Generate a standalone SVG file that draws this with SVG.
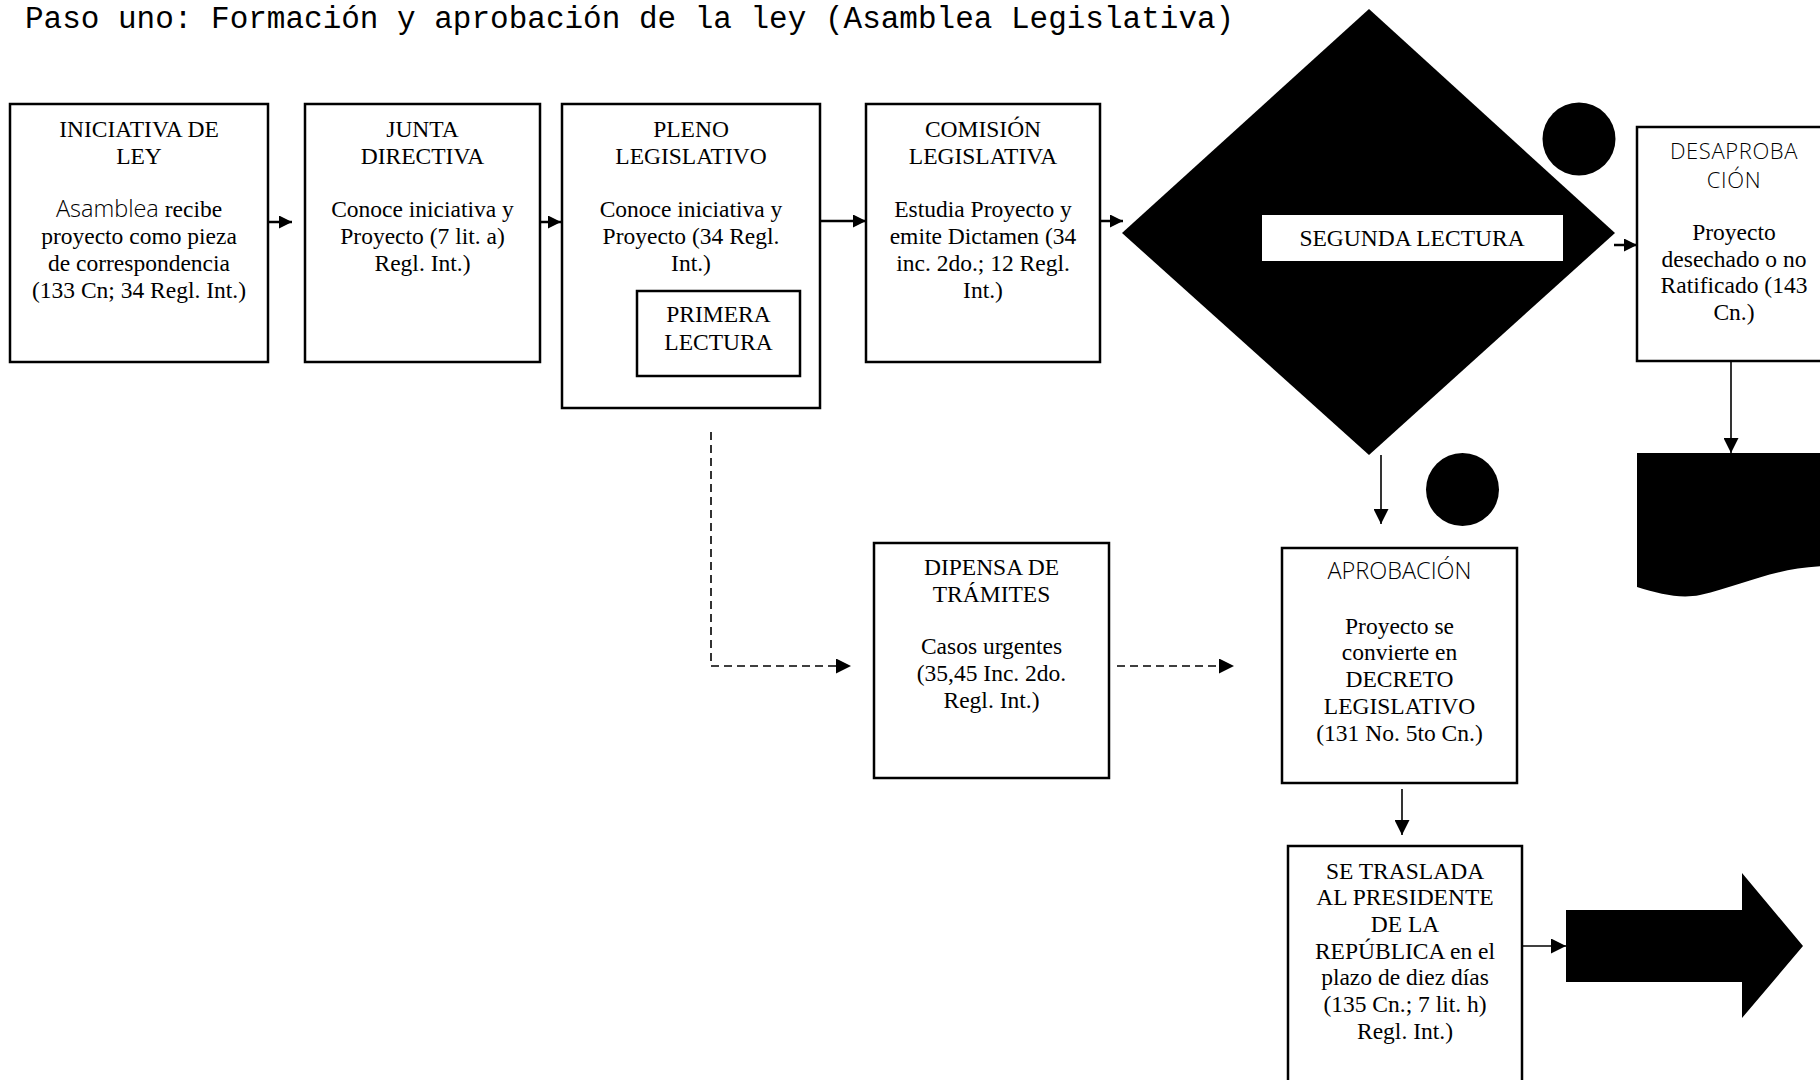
<svg xmlns="http://www.w3.org/2000/svg" width="1820" height="1080" viewBox="0 0 1820 1080">
  <style>
    .box { fill: #ffffff; stroke: #000000; stroke-width: 2.5; }
    .solid { fill: #000000; stroke: none; }
    .t { font-family: "Liberation Serif", "Times New Roman", serif; font-size: 23.5px; fill: #000000; text-anchor: middle; }
    .sans { font-family: "Open Sans", "Liberation Sans", sans-serif; font-weight: 300; }
    .sans-head { font-size: 22px; letter-spacing: 0.6px; }
    .title { font-family: "Liberation Mono", "Courier New", monospace; font-size: 31px; fill: #000000; }
    .thick { stroke: #000000; stroke-width: 2.5; fill: none; }
    .thin { stroke: #000000; stroke-width: 1.6; fill: none; }
    .dash { stroke: #000000; stroke-width: 1.6; fill: none; stroke-dasharray: 8 5; }
  </style>
  <defs>
    <marker id="head" markerUnits="userSpaceOnUse" markerWidth="13" markerHeight="13" refX="13" refY="6.5" orient="auto">
      <path d="M0,0 L13,6.5 L0,13 Z" fill="#000000"/>
    </marker>
    <marker id="headThin" markerUnits="userSpaceOnUse" markerWidth="15" markerHeight="15" refX="15" refY="7.5" orient="auto">
      <path d="M0,0 L15,7.5 L0,15 Z" fill="#000000"/>
    </marker>
  </defs>

  <rect width="1820" height="1080" fill="#ffffff"/>

  <text class="title" x="25" y="28">Paso uno: Formación y aprobación de la ley (Asamblea Legislativa)</text>

  <!-- connectors -->
  <g id="connectors">
    <line class="thick" x1="268" y1="222" x2="292" y2="222" marker-end="url(#head)"/>
    <line class="thick" x1="540" y1="222" x2="561" y2="222" marker-end="url(#head)"/>
    <line class="thick" x1="820" y1="221" x2="866" y2="221" marker-end="url(#head)"/>
    <line class="thick" x1="1100" y1="221" x2="1123" y2="221" marker-end="url(#head)"/>
    <line class="thick" x1="1614" y1="245" x2="1637" y2="245" marker-end="url(#head)"/>
    <line class="thin" x1="1731" y1="362" x2="1731" y2="453" marker-end="url(#headThin)"/>
    <line class="thin" x1="1381" y1="455" x2="1381" y2="524" marker-end="url(#headThin)"/>
    <line class="thin" x1="1402" y1="789" x2="1402" y2="835" marker-end="url(#headThin)"/>
    <line class="thin" x1="1522" y1="946" x2="1566" y2="946" marker-end="url(#headThin)"/>
    <polyline class="dash" points="711,432 711,666 851,666" marker-end="url(#headThin)"/>
    <line class="dash" x1="1117" y1="666" x2="1234" y2="666" marker-end="url(#headThin)"/>
  </g>

  <g id="iniciativa">
    <rect class="box" x="10" y="104" width="258" height="258"/>
    <text class="t" x="139" y="137">INICIATIVA DE</text>
    <text class="t" x="139" y="164">LEY</text>
    <text class="t" x="139" y="217"><tspan class="sans">Asamblea</tspan> recibe</text>
    <text class="t" x="139" y="244">proyecto como pieza</text>
    <text class="t" x="139" y="271">de correspondencia</text>
    <text class="t" x="139" y="298">(133 Cn; 34 Regl. Int.)</text>
  </g>

  <g id="junta">
    <rect class="box" x="305" y="104" width="235" height="258"/>
    <text class="t" x="422.5" y="137">JUNTA</text>
    <text class="t" x="422.5" y="164">DIRECTIVA</text>
    <text class="t" x="422.5" y="217">Conoce iniciativa y</text>
    <text class="t" x="422.5" y="244">Proyecto (7 lit. a)</text>
    <text class="t" x="422.5" y="271">Regl. Int.)</text>
  </g>

  <g id="pleno">
    <rect class="box" x="562" y="104" width="258" height="304"/>
    <text class="t" x="691" y="137">PLENO</text>
    <text class="t" x="691" y="164">LEGISLATIVO</text>
    <text class="t" x="691" y="217">Conoce iniciativa y</text>
    <text class="t" x="691" y="244">Proyecto (34 Regl.</text>
    <text class="t" x="691" y="271">Int.)</text>
  </g>

  <g id="primera-lectura">
    <rect class="box" x="637" y="291" width="163" height="85"/>
    <text class="t" x="718.5" y="322">PRIMERA</text>
    <text class="t" x="718.5" y="350">LECTURA</text>
  </g>

  <g id="comision">
    <rect class="box" x="866" y="104" width="234" height="258"/>
    <text class="t" x="983" y="137">COMISIÓN</text>
    <text class="t" x="983" y="164">LEGISLATIVA</text>
    <text class="t" x="983" y="217">Estudia Proyecto y</text>
    <text class="t" x="983" y="244">emite Dictamen (34</text>
    <text class="t" x="983" y="271">inc. 2do.; 12 Regl.</text>
    <text class="t" x="983" y="298">Int.)</text>
  </g>

  <g id="segunda-lectura">
    <polygon class="solid" points="1369,9 1615,233 1369,455 1122,233"/>
    <rect x="1262" y="215" width="301" height="46" fill="#ffffff"/>
    <text class="t" x="1412" y="246">SEGUNDA LECTURA</text>
  </g>

  <g id="conector-desaprobacion">
    <circle class="solid" cx="1579" cy="139" r="36.5"/>
  </g>

  <g id="desaprobacion">
    <rect class="box" x="1637" y="127" width="196" height="234"/>
    <text class="t sans sans-head" x="1734" y="159">DESAPROBA</text>
    <text class="t sans sans-head" x="1734" y="188">CIÓN</text>
    <text class="t" x="1734" y="240">Proyecto</text>
    <text class="t" x="1734" y="267">desechado o no</text>
    <text class="t" x="1734" y="293">Ratificado (143</text>
    <text class="t" x="1734" y="320">Cn.)</text>
  </g>

  <g id="documento">
    <path class="solid" d="M1637,453 H1834 V566 C1775,566 1745,585 1700,595 C1680,599 1660,594 1637,587 Z"/>
  </g>

  <g id="dispensa">
    <rect class="box" x="874" y="543" width="235" height="235"/>
    <text class="t" x="991.5" y="575">DIPENSA DE</text>
    <text class="t" x="991.5" y="602">TRÁMITES</text>
    <text class="t" x="991.5" y="654">Casos urgentes</text>
    <text class="t" x="991.5" y="681">(35,45 Inc. 2do.</text>
    <text class="t" x="991.5" y="708">Regl. Int.)</text>
  </g>

  <g id="conector-aprobacion">
    <circle class="solid" cx="1462.5" cy="489.5" r="36.5"/>
  </g>

  <g id="aprobacion">
    <rect class="box" x="1282" y="548" width="235" height="235"/>
    <text class="t sans" x="1399.5" y="579">APROBACIÓN</text>
    <text class="t" x="1399.5" y="634">Proyecto se</text>
    <text class="t" x="1399.5" y="660">convierte en</text>
    <text class="t" x="1399.5" y="687">DECRETO</text>
    <text class="t" x="1399.5" y="714">LEGISLATIVO</text>
    <text class="t" x="1399.5" y="741">(131 No. 5to Cn.)</text>
  </g>

  <g id="traslado">
    <rect class="box" x="1288" y="846" width="234" height="240"/>
    <text class="t" x="1405" y="879">SE TRASLADA</text>
    <text class="t" x="1405" y="905">AL PRESIDENTE</text>
    <text class="t" x="1405" y="932">DE LA</text>
    <text class="t" x="1405" y="959">REPÚBLICA en el</text>
    <text class="t" x="1405" y="985">plazo de diez días</text>
    <text class="t" x="1405" y="1012">(135 Cn.; 7 lit. h)</text>
    <text class="t" x="1405" y="1039">Regl. Int.)</text>
  </g>

  <g id="siguiente-paso">
    <polygon class="solid" points="1566,910 1742,910 1742,873 1803,946 1742,1018 1742,982 1566,982"/>
  </g>
</svg>
